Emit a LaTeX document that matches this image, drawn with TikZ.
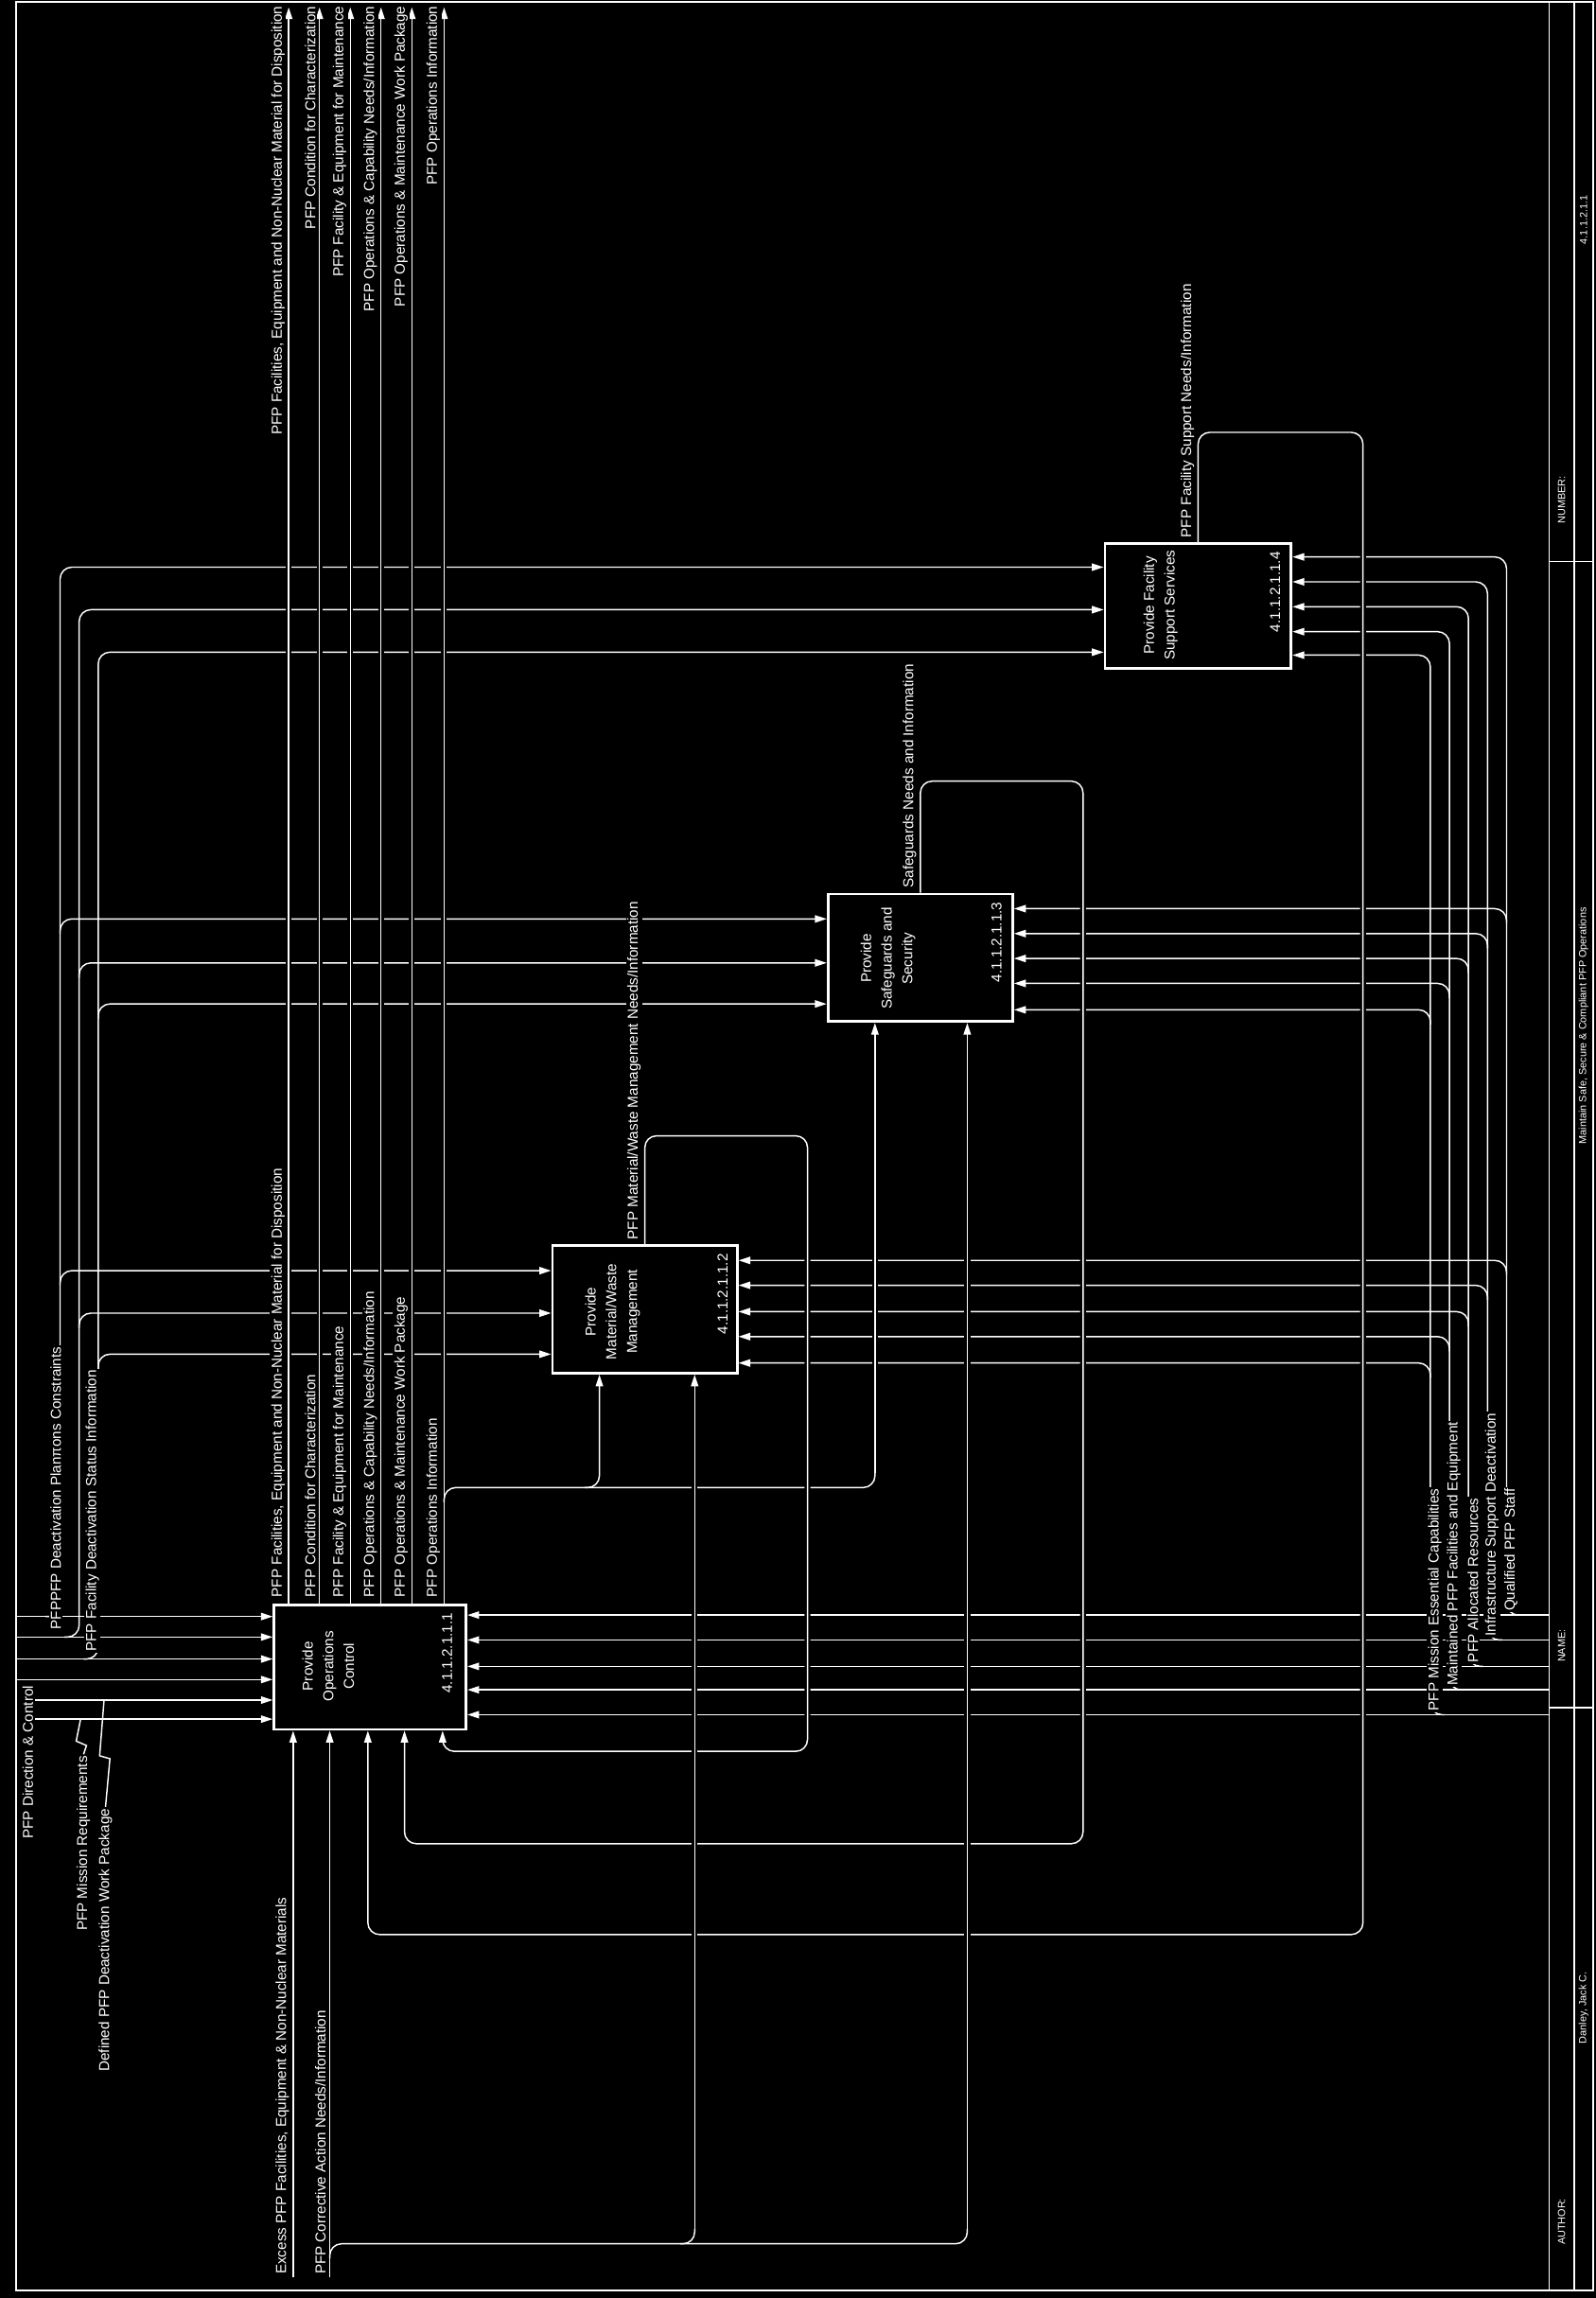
\documentclass[tikz,border=0pt]{standalone}
\usepackage{fontspec}
\setmainfont{Liberation Sans}
\usetikzlibrary{arrows.meta,positioning,calc}
\pgfdeclarelayer{bg}
\pgfdeclarelayer{wires}
\pgfsetlayers{bg,wires,main}

\begin{document}
\begin{tikzpicture}[x=0.3mm,y=-0.3mm,
    every node/.style={text=white,font=\fontsize{8.4}{12}\selectfont,inner sep=0.4mm},
    wire/.style={draw=white,line width=0.8pt,rounded corners=2.4mm},
    flow/.style={wire,-{Triangle[length=2.4mm,width=1.5mm]}},
    halo/.style={preaction={draw=black,line width=3.4pt,arrows=-}},
    fn/.style 2 args={draw=white,fill=black,line width=1.6pt,minimum width=#1*0.3mm,minimum height=#2*0.3mm},
    lab/.style={rotate=90,fill=black,inner sep=0.3mm},
    strip/.style={rotate=90,font=\fontsize{6}{7}\selectfont}]
  \useasboundingbox (0,0) rectangle (1089,1568);
  \begin{pgfonlayer}{bg}
    \fill[black] (0,0) rectangle (1089,1568);
  \end{pgfonlayer}

  % activity boxes
  \node[fn={131}{85}] (b1) at (252.5,1137.5) {};
  \node[fn={126}{87}] (b2) at (440,893.5) {};
  \node[fn={126}{87}] (b3) at (628,653.5) {};
  \node[fn={127}{85}] (b4) at (817.5,413.5) {};
  \node[rotate=90,align=center] (b1t) at (224,1137) {Provide\\Operations\\Control};
  \node[rotate=90,anchor=east] (b1n) at (305,1099) {4.1.1.2.1.1.1};
  \node[rotate=90,align=center] (b2t) at (418,895) {Provide\\Material/Waste\\Management};
  \node[rotate=90,anchor=east] (b2n) at (493,854) {4.1.1.2.1.1.2};
  \node[rotate=90,align=center] (b3t) at (606,654) {Provide\\Safeguards and\\Security};
  \node[rotate=90,anchor=east] (b3n) at (680,614) {4.1.1.2.1.1.3};
  \node[rotate=90,align=center] (b4t) at (792,413) {Provide Facility\\Support Services};
  \node[rotate=90,anchor=east] (b4n) at (870,375) {4.1.1.2.1.1.4};

  % arrow labels
  \foreach \x/\txt in {197/{PFP Facilities, Equipment and Non-Nuclear Material for Disposition},
      218/{PFP Condition for Characterization},
      239/{PFP Facility \& Equipment for Maintenance},
      260/{PFP Operations \& Capability Needs/Information},
      281/{PFP Operations \& Maintenance Work Package},
      303/{PFP Operations Information}} {
    \node[lab,anchor=south east] at (\x-1.5,3) {\txt};
    \node[lab,anchor=south west] at (\x-1.5,1091) {\txt};
  }
  \node[lab,anchor=south west] (o2) at (438.5,847) {PFP Material/Waste Management Needs/Information};
  \node[lab,anchor=south west] (o3) at (626.5,607) {Safeguards Needs and Information};
  \node[lab,anchor=south west] (o4) at (816,368) {PFP Facility Support Needs/Information};
  \node[lab,anchor=south west] (i1) at (198.5,1553) {Excess PFP Facilities, Equipment \& Non-Nuclear Materials};
  \node[lab,anchor=south west] (i2) at (223.5,1553) {PFP Corrective Action Needs/Information};
  \node[lab,anchor=west] (c1) at (38,1113) {PFPPFP Deactivation Planπons Constraints};
  \node[lab,anchor=west] (c2) at (63,1128) {PFP Facility Deactivation Status Information};
  \node[lab,anchor=east] (c3) at (19,1149) {PFP Direction \& Control};
  \node[lab,anchor=east] (c4) at (57,1197) {PFP Mission Requirements};
  \node[lab,anchor=east] (c5) at (72,1233) {Defined PFP Deactivation Work Package};
  \foreach \tx/\y/\txt in {976/1170/{PFP Mission Essential Capabilities},
      989/1153/{Maintained PFP Facilities and Equipment},
      1002/1137/{PFP Allocated Resources},
      1015/1119/{Infrastructure Support Deactivation},
      1028/1102/{Qualified PFP Staff}}
    \node[lab,anchor=west] at (\tx+3,\y-1.5) {\txt};

  % title block
  \node[strip] (num) at (1065.5,341) {NUMBER:};
  \node[strip] (numv) at (1080.5,150) {4.1.1.2.1.1};
  \node[strip] (nam) at (1065.5,1123) {NAME:};
  \node[strip] (namv) at (1080.5,700) {Maintain Safe, Secure \& Compliant PFP Operations};
  \node[strip] (aut) at (1065.5,1516) {AUTHOR:};
  \node[strip] (autv) at (1080.5,1370) {Danley, Jack C.};

  \begin{pgfonlayer}{wires}
    \draw[white,line width=1.1pt] (11,1) rectangle (1087,1563);
    \draw[white,line width=0.9pt] (1057,1) -- (1057,1563) (1074,1) -- (1074,1563)
      (1057,383) -- (1087,383) (1057,1165) -- (1087,1165);

    % mechanisms from the right
    \foreach \tx/\ya/\yb/\yc/\yd in {976/1170/930/689/447, 989/1153/912/671/431,
        1002/1137/895/654/414, 1015/1119/877/637/397, 1028/1102/860/620/380} {
      \draw[flow] (1057,\ya) -- (b1.east |- 0,\ya);
      \draw[flow] (\tx+10,\ya) -| (\tx,\yd) -- (b4.east |- 0,\yd);
      \draw[flow] (\tx,\yb+10) |- (b2.east |- 0,\yb);
      \draw[flow] (\tx,\yc+10) |- (b3.east |- 0,\yc);
    }

    % controls from the left
    \foreach \y/\xs in {1103/11,1117/11,1132/11,1146/11,1160/24,1173/24}
      \draw[flow] (\xs,\y) -- (b1.west |- 0,\y);
    \foreach \tx/\ya/\yb/\yc/\yd in {41/1103/867/627/387, 54/1117/896/657/416, 67/1132/924/685/445} {
      \draw[flow] (\tx-10,\ya) -| (\tx,\yd) -- (b4.west |- 0,\yd);
      \draw[flow] (\tx,\yc+10) |- (b3.west |- 0,\yc);
      \draw[flow] (\tx,\yb+10) |- (b2.west |- 0,\yb);
    }
    \draw[wire,rounded corners=0] (55,1173) -- (52,1188) -- (59,1191) -- (c4.east);
    \draw[wire,rounded corners=0] (71,1160) -- (68,1198) -- (75,1200) -- (c5.east);

    % outputs of box 1
    \foreach \x in {197,218,239,260,281,303}
      \draw[flow,halo] (b1.north -| \x,0) -- (\x,5);
    \draw[wire] (303,1025) |- (597,1015) -- (597,1005);
    \draw[flow,halo] (597,1005) -- (b3.south -| 597,0);
    \draw[flow] (399,1015) -| (b2.south -| 409,0);

    % feedback loops
    \draw[flow,halo] (b2.north) -- (440,775) -- (551,775) -- (551,1195) -- (302,1195) -- (b1.south -| 302,0);
    \draw[flow,halo] (b3.north) -- (628,533) -- (739,533) -- (739,1258) -- (276,1258) -- (b1.south -| 276,0);
    \draw[flow,halo] (b4.north) -- (817.5,295) -- (930,295) -- (930,1320) -- (251,1320) -- (b1.south -| 251,0);

    % inputs from the bottom
    \draw[flow] (200,1554) -- (b1.south -| 200,0);
    \draw[flow] (225,1554) -- (b1.south -| 225,0);
    \draw[wire] (225,1541) |- (660,1531) -- (660,1521);
    \draw[flow,halo] (660,1521) -- (b3.south -| 660,0);
    \draw[wire] (464,1531) -| (474,1521);
    \draw[flow,halo] (474,1521) -- (b2.south -| 474,0);
  \end{pgfonlayer}
\end{tikzpicture}
\end{document}
